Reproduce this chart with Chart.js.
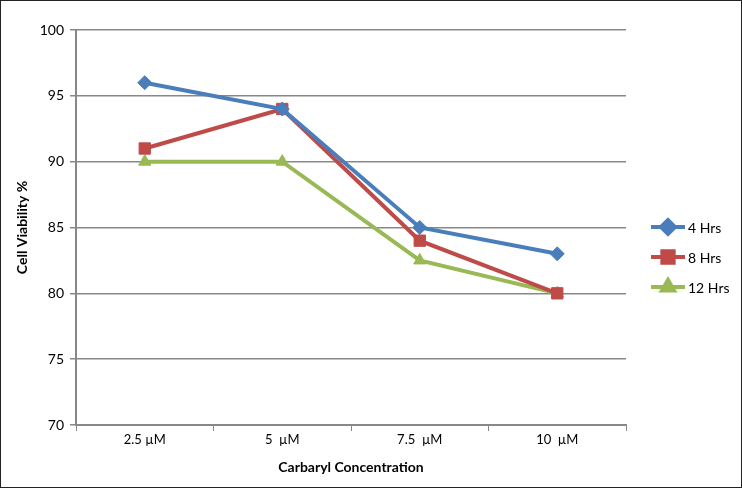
<!DOCTYPE html>
<html>
<head>
<meta charset="utf-8">
<script src="https://cdn.jsdelivr.net/npm/chart.js"></script>
<style>
  html, body { margin: 0; padding: 0; background: #fff; }
  #wrap { width: 742px; height: 488px; position: relative; }
</style>
</head>
<body>
<div id="wrap"><canvas id="mycanvas" width="742" height="488"></canvas></div>
<script>
var concentrations = ['2.5 \u00b5M', '5  \u00b5M', '7.5  \u00b5M', '10  \u00b5M'];
var hrs4 = [96, 94, 85, 83];
var hrs8 = [91, 94, 84, 80];
var hrs12 = [90, 90, 82.5, 80];
var yTicks = [70, 75, 80, 85, 90, 95, 100];

var FONT = 'Lato, "Open Sans", sans-serif';

// legend on the right with line + marker, like the original
var sideLegend = {
	id: 'sideLegend',
	afterDraw: function(chart) {
		var ctx = chart.ctx;
		var sets = chart.data.datasets;
		ctx.save();
		for (var i = 0; i < sets.length; i++) {
			var ds = sets[i];
			var y = 227 + i * 30;
			ctx.strokeStyle = ds.borderColor;
			ctx.lineWidth = 4;
			ctx.beginPath();
			ctx.moveTo(651, y);
			ctx.lineTo(685, y);
			ctx.stroke();
			Chart.helpers.drawPoint(ctx, {
				pointStyle: ds.pointStyle,
				radius: ds.pointRadius,
				rotation: ds.pointRotation || 0,
				borderWidth: 1
			}, 668, y);
			ctx.fillStyle = ds.borderColor;
			ctx.fill();
			ctx.fillStyle = '#000';
			ctx.font = '14px ' + FONT;
			ctx.textBaseline = 'middle';
			ctx.fillText(ds.label, 688, y + 1);
		}
		// outer frame
		ctx.strokeStyle = '#222';
		ctx.lineWidth = 1;
		ctx.strokeRect(0.5, 0.5, 741, 487);
		ctx.restore();
	}
};

var ctx = document.getElementById('mycanvas');

new Chart(ctx, {
	type: 'line',
	data: {
		labels: concentrations,
		datasets: [
			{
				label: '4 Hrs',
				data: hrs4,
				borderColor: '#4A7EBB',
				backgroundColor: '#4A7EBB',
				borderWidth: 4,
				pointStyle: 'rectRot',
				pointRadius: 7,
				pointBorderWidth: 1
			},
			{
				label: '8 Hrs',
				data: hrs8,
				borderColor: '#BE4B48',
				backgroundColor: '#BE4B48',
				borderWidth: 4,
				pointStyle: 'rect',
				pointRadius: 8,
				pointBorderWidth: 1
			},
			{
				label: '12 Hrs',
				data: hrs12,
				borderColor: '#98B954',
				backgroundColor: '#98B954',
				borderWidth: 4,
				pointStyle: 'triangle',
				pointRadius: 7,
				pointBorderWidth: 1
			}
		]
	},
	options: {
		responsive: false,
		animation: false,
		layout: { padding: { top: 30, right: 116, bottom: 0, left: 0 } },
		plugins: {
			legend: { display: false },
			tooltip: { enabled: false }
		},
		scales: {
			x: {
				offset: true,
				grid: {
					display: true,
					offset: true,
					drawOnChartArea: false,
					drawTicks: true,
					tickLength: 6,
					color: '#888'
				},
				border: { color: '#888', width: 2 },
				ticks: { color: '#000', font: { family: FONT, size: 13 }, padding: 1 },
				title: {
					display: true,
					text: 'Carbaryl Concentration',
					color: '#000',
					font: { family: FONT, size: 14, weight: 'bold' },
					padding: { top: 6, bottom: 12 }
				},
				afterFit: function(scale) { scale.height = 63; }
			},
			y: {
				min: 70,
				max: 100,
				afterBuildTicks: function(scale) {
					scale.ticks = yTicks.map(function(v) { return { value: v }; });
				},
				grid: { color: '#888', lineWidth: 1.5, tickLength: 6 },
				border: { color: '#888', width: 2 },
				ticks: { color: '#000', font: { family: FONT, size: 14 }, padding: 6 },
				title: {
					display: true,
					text: 'Cell Viability %',
					color: '#000',
					font: { family: FONT, size: 14, weight: 'bold' },
					padding: { top: 14, bottom: 6 }
				},
				afterFit: function(scale) { scale.width = 76; }
			}
		}
	},
	plugins: [sideLegend]
});
</script>
</body>
</html>
